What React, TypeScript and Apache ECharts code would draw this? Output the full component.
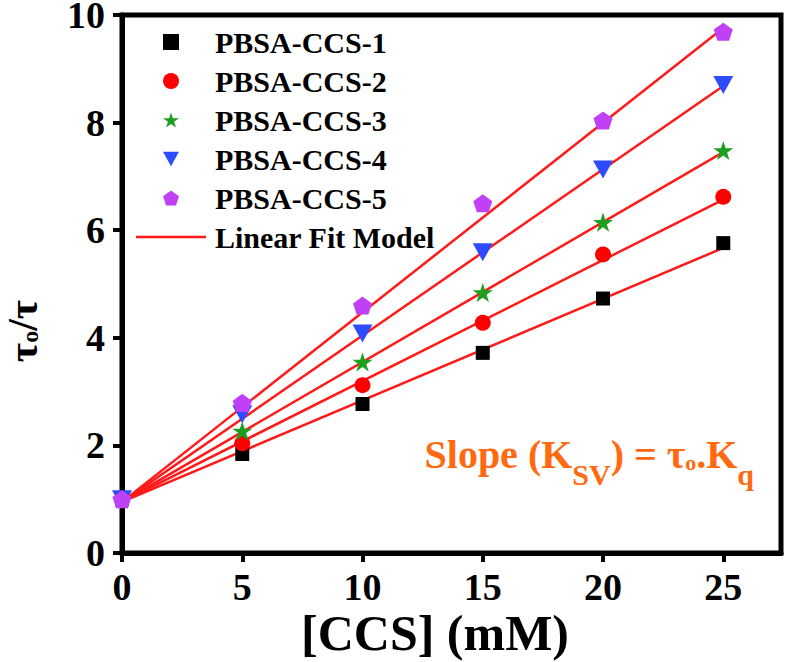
import React, { useEffect, useRef } from "react";
import * as echarts from "echarts";

const concentrations = [0, 5, 10, 15, 20, 25];
const ccs1 = [1.0, 1.84, 2.77, 3.72, 4.73, 5.76];
const ccs2 = [1.0, 2.04, 3.12, 4.28, 5.55, 6.62];
const ccs3 = [1.0, 2.27, 3.55, 4.84, 6.15, 7.48];
const ccs4 = [1.0, 2.58, 4.08, 5.59, 7.13, 8.7];
const ccs5 = [1.0, 2.79, 4.6, 6.5, 8.04, 9.69];

const fitX = [0, 25];
const fit1 = [0.95, 5.67];
const fit2 = [0.95, 6.57];
const fit3 = [0.95, 7.45];
const fit4 = [0.95, 8.68];
const fit5 = [0.95, 9.76];

const seriesNames = ["PBSA-CCS-1", "PBSA-CCS-2", "PBSA-CCS-3", "PBSA-CCS-4", "PBSA-CCS-5"];
const fitName = "Linear Fit Model";
const xTicks = [0, 5, 10, 15, 20, 25];

const FONT = "'Liberation Serif', 'Times New Roman', serif";
const ORANGE = "#FF6A10";
const FIT_RED = "#FF1A1A";

const STAR =
  "path://M0,-1 L0.2245,-0.309 L0.951,-0.309 L0.3633,0.118 L0.588,0.809 L0,0.382 L-0.588,0.809 L-0.3633,0.118 L-0.951,-0.309 L-0.2245,-0.309 Z";
const PENTAGON = "path://M0,-1 L0.951,-0.309 L0.588,0.809 L-0.588,0.809 L-0.951,-0.309 Z";
const TRI_DOWN = "path://M-1,-0.9 L1,-0.9 L0,0.9 Z";
const LINE_ICON = "path://M0,0 L70,0 L70,2.5 L0,2.5 Z";

const pairs = (xs: number[], ys: number[]) => xs.map((x, i) => [x, ys[i]]);

export default function App() {
  const ref = useRef<HTMLDivElement>(null);

  useEffect(() => {
    if (!ref.current) return;
    const chart = echarts.init(ref.current, null, { renderer: "svg" });

    const scatterDefs = [
      { data: ccs1, symbol: "rect", size: 14, color: "#000000" },
      { data: ccs2, symbol: "circle", size: 16, color: "#FF0000" },
      { data: ccs3, symbol: STAR, size: 20, color: "#1E9E1E" },
      { data: ccs4, symbol: TRI_DOWN, size: 20, color: "#2D4BFF" },
      { data: ccs5, symbol: PENTAGON, size: 19, color: "#C040F5" },
    ];
    const fits = [fit1, fit2, fit3, fit4, fit5];

    const series: any[] = [];
    fits.forEach((f) => {
      series.push({
        type: "line",
        name: fitName,
        data: pairs(fitX, f),
        symbol: "none",
        showSymbol: false,
        lineStyle: { color: FIT_RED, width: 2.5 },
        itemStyle: { color: FIT_RED },
        z: 2,
      });
    });
    scatterDefs.forEach((d, i) => {
      series.push({
        type: "scatter",
        name: seriesNames[i],
        data: pairs(concentrations, d.data),
        symbol: d.symbol,
        symbolSize: d.size,
        symbolKeepAspect: true,
        itemStyle: { color: d.color, opacity: 1 },
        z: 3,
      });
    });

    const legendText = {
      fontFamily: FONT,
      fontWeight: "bold",
      fontSize: 30,
      lineHeight: 30,
      color: "#000",
    };

    chart.setOption({
      animation: false,
      backgroundColor: "#ffffff",
      grid: {
        left: 122,
        right: 6,
        top: 15,
        bottom: 109,
        show: true,
        borderColor: "#000",
        borderWidth: 5,
        containLabel: false,
        outerBoundsMode: "none",
      },
      legend: [
        {
          data: seriesNames.map((n, i) => ({ name: n, icon: scatterDefs[i].symbol })),
          orient: "vertical",
          left: 158,
          top: 22,
          itemWidth: 16,
          itemHeight: 16,
          itemGap: 9,
          symbolKeepAspect: true,
          symbolRotate: 0,
          selectedMode: false,
          textStyle: { ...legendText, padding: [0, 0, 0, 31] },
        },
        {
          data: [{ name: fitName, icon: LINE_ICON }],
          orient: "vertical",
          left: 131,
          top: 217,
          itemWidth: 70,
          itemHeight: 16,
          symbolKeepAspect: true,
          symbolRotate: 0,
          selectedMode: false,
          textStyle: { ...legendText, padding: [0, 0, 0, 4] },
        },
      ],
      xAxis: {
        type: "value",
        min: 0,
        max: 27.4,
        interval: 5,
        splitLine: { show: false },
        axisLine: { show: true, onZero: false, lineStyle: { color: "#000", width: 5 } },
        axisTick: { show: true, inside: false, length: 9, lineStyle: { color: "#000", width: 4 } },
        axisLabel: {
          showMaxLabel: false,
          margin: 15,
          fontFamily: FONT,
          fontWeight: "bold",
          fontSize: 38,
          color: "#000",
          formatter: (v: number) => (xTicks.includes(v) ? String(v) : ""),
        },
      },
      yAxis: {
        type: "value",
        min: 0,
        max: 10,
        interval: 2,
        splitLine: { show: false },
        axisLine: { show: true, onZero: false, lineStyle: { color: "#000", width: 5 } },
        axisTick: { show: true, inside: false, length: 9, lineStyle: { color: "#000", width: 4 } },
        axisLabel: {
          margin: 17,
          fontFamily: FONT,
          fontWeight: "bold",
          fontSize: 38,
          color: "#000",
        },
      },
      graphic: [
        {
          type: "text",
          x: 435,
          y: 633,
          style: {
            text: "[CCS] (mM)",
            align: "center",
            verticalAlign: "middle",
            fontFamily: FONT,
            fontWeight: "bold",
            fontSize: 50,
            fill: "#000",
          },
        },
        {
          type: "text",
          x: 23,
          y: 331,
          rotation: Math.PI / 2,
          style: {
            text: "{m|τ}{s|o}{m|/τ}",
            align: "center",
            verticalAlign: "middle",
            rich: {
              m: { fontFamily: FONT, fontWeight: "bold", fontSize: 42, lineHeight: 44, fill: "#000", color: "#000" },
              s: {
                fontFamily: FONT,
                fontWeight: "bold",
                fontSize: 24,
                lineHeight: 24,
                padding: [14, 0, 0, 0],
                fill: "#000",
                color: "#000",
              },
            },
          },
        },
        {
          type: "text",
          x: 754,
          y: 434,
          style: {
            text: "{m|Slope (K}{s|SV}{m|) = τ}{o|o}{m|.K}{s|q}",
            align: "right",
            verticalAlign: "top",
            rich: {
              m: {
                fontFamily: FONT,
                fontWeight: "bold",
                fontSize: 40,
                lineHeight: 40,
                verticalAlign: "top",
                fill: ORANGE,
                color: ORANGE,
              },
              s: {
                fontFamily: FONT,
                fontWeight: "bold",
                fontSize: 30,
                lineHeight: 30,
                padding: [25, 0, 0, 0],
                verticalAlign: "top",
                fill: ORANGE,
                color: ORANGE,
              },
              o: {
                fontFamily: FONT,
                fontWeight: "bold",
                fontSize: 22,
                lineHeight: 22,
                padding: [17, 0, 0, 0],
                verticalAlign: "top",
                fill: ORANGE,
                color: ORANGE,
              },
            },
          },
        },
      ],
      series,
    });

    return () => chart.dispose();
  }, []);

  return (
    <div
      ref={ref}
      style={{ position: "fixed", left: 0, top: 0, width: 787, height: 662, background: "#fff" }}
    />
  );
}
